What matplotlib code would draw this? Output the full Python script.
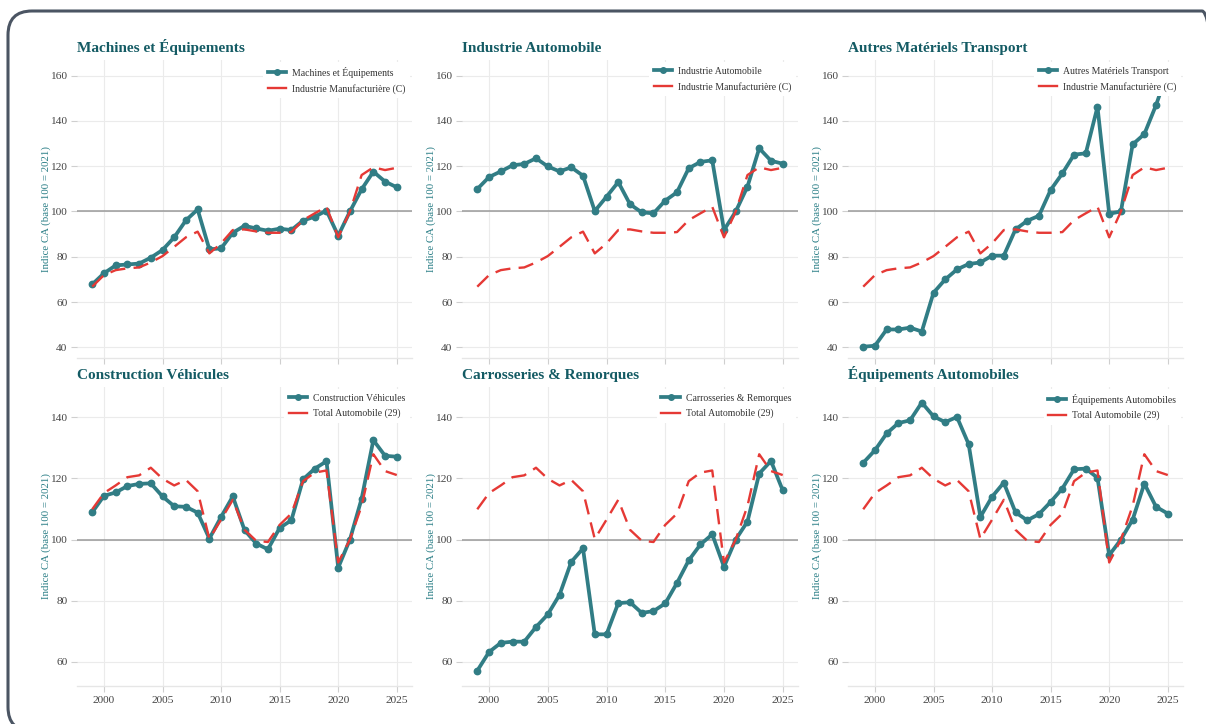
import matplotlib

matplotlib.use("Agg")

import matplotlib.pyplot as plt
from matplotlib.lines import Line2D
from matplotlib.patches import FancyBboxPatch
from matplotlib.transforms import IdentityTransform

plt.rcParams["font.family"] = ["Liberation Serif", "DejaVu Serif"]

YEARS = list(range(1999, 2026))

# sub-sector turnover indices, base 100 = 2021
MACHINES = [67.8, 72.7, 76.2, 76.6, 77.0, 79.6, 83.0, 88.6, 96.1, 100.9,
            83.3, 83.7, 90.6, 93.7, 92.5, 91.5, 92.4, 91.8, 96.0, 97.7,
            100.4, 89.3, 100.0, 109.8, 117.6, 113.2, 110.7]
AUTOMOBILE = [109.9, 115.2, 117.7, 120.4, 121.0, 123.5, 119.9, 117.7, 119.5, 115.8,
              100.2, 106.5, 113.0, 103.2, 99.6, 99.2, 104.8, 108.5, 119.1, 121.9,
              122.6, 91.8, 100.0, 111.0, 127.9, 122.4, 121.1]
AUTRES_TRANSPORT = [40.3, 40.7, 47.9, 47.9, 48.7, 47.0, 64.1, 70.0, 74.4, 76.8,
                    77.5, 80.5, 80.5, 92.1, 95.9, 98.1, 109.5, 116.8, 125.1, 125.7,
                    146.2, 99.0, 100.0, 129.6, 134.2, 147.0, 162.0]
CONSTRUCTION = [108.9, 114.3, 115.4, 117.5, 118.2, 118.4, 114.1, 110.9, 110.7, 108.8,
                100.3, 107.4, 114.1, 103.1, 98.7, 96.8, 103.8, 106.3, 119.7, 123.2,
                125.6, 90.8, 100.0, 113.4, 132.5, 127.4, 127.1]
CARROSSERIES = [57.1, 63.2, 66.2, 66.6, 66.6, 71.4, 75.5, 81.9, 92.7, 97.1,
                69.0, 69.0, 79.2, 79.5, 76.0, 76.6, 79.1, 85.8, 93.2, 98.4,
                101.7, 91.1, 100.0, 105.9, 121.6, 125.7, 116.1]
EQUIPEMENTS = [125.1, 129.2, 134.7, 138.1, 139.0, 144.8, 140.3, 138.4, 140.1, 131.2,
               107.4, 114.0, 118.6, 108.9, 106.3, 108.3, 112.3, 116.7, 123.0, 123.2,
               120.2, 94.9, 100.0, 106.5, 118.3, 110.7, 108.5]

# reference series
MANUFACTURIERE = [66.8, 71.9, 74.1, 74.9, 75.3, 77.5, 80.3, 84.4, 88.6, 91.1,
                  81.5, 85.9, 91.8, 92.1, 91.2, 90.6, 90.6, 90.9, 96.2, 99.2,
                  102.1, 88.6, 100.0, 116.1, 119.5, 118.3, 119.3]
TOTAL_AUTO = [109.9, 115.2, 117.7, 120.4, 121.0, 123.5, 119.9, 117.7, 119.5, 115.8,
              100.2, 106.5, 113.0, 103.2, 99.6, 99.2, 104.8, 108.5, 119.1, 121.9,
              122.6, 92.5, 100.0, 111.0, 127.9, 122.4, 121.1]

PANELS = [
    ("Machines et Équipements", MACHINES, "Industrie Manufacturière (C)", MANUFACTURIERE),
    ("Industrie Automobile", AUTOMOBILE, "Industrie Manufacturière (C)", MANUFACTURIERE),
    ("Autres Matériels Transport", AUTRES_TRANSPORT, "Industrie Manufacturière (C)", MANUFACTURIERE),
    ("Construction Véhicules", CONSTRUCTION, "Total Automobile (29)", TOTAL_AUTO),
    ("Carrosseries & Remorques", CARROSSERIES, "Total Automobile (29)", TOTAL_AUTO),
    ("Équipements Automobiles", EQUIPEMENTS, "Total Automobile (29)", TOTAL_AUTO),
]

TEAL = "#317d85"
RED = "#e53935"
TITLE_COLOR = "#145b64"
GRID = "#ebebeb"

W, H = 1206, 724
fig = plt.figure(figsize=(W / 100, H / 100), dpi=100)
fig.patch.set_facecolor("white")

# card border with rounded corners, in pixel coordinates (runs past the right edge)
frame = FancyBboxPatch((8, -7), 1218, 720, boxstyle="round,pad=0,rounding_size=24",
                       transform=IdentityTransform(), facecolor="none",
                       edgecolor="#4b5563", linewidth=2.2)
fig.add_artist(frame)

col_x = [(77, 412), (462, 798), (848, 1183)]
row_y = [(60, 358), (387, 686)]
row_ylim = [(35.3, 166.9), (52.1, 149.9)]
row_ticks = [range(40, 161, 20), range(60, 141, 20)]

for i, (title, values, ref_name, ref_values) in enumerate(PANELS):
    r, c = divmod(i, 3)
    x0, x1 = col_x[c]
    y0, y1 = row_y[r]
    ax = fig.add_axes([x0 / W, 1 - y1 / H, (x1 - x0) / W, (y1 - y0) / H])

    ax.plot(YEARS, values, color=TEAL, linewidth=2.7, marker="o", markersize=4.6, zorder=3)
    ax.plot(YEARS, ref_values, color=RED, linewidth=1.7, dashes=(6.5, 3.5), zorder=4)
    ax.axhline(100, color="#9a9a9a", linewidth=1.1, zorder=2)

    ax.set_xlim(1997.7, 2026.3)
    ax.set_ylim(*row_ylim[r])
    ax.set_xticks(range(2000, 2026, 5))
    ax.set_yticks(list(row_ticks[r]))
    ax.grid(True, color=GRID, linewidth=0.8, zorder=0)
    ax.set_axisbelow(True)
    for side in ("top", "right", "left"):
        ax.spines[side].set_visible(False)
    ax.spines["bottom"].set_color("#e6e6e6")
    ax.spines["bottom"].set_linewidth(1.0)
    ax.tick_params(axis="both", colors="#cfcfcf", length=4, width=0.8,
                   labelsize=8.2, labelcolor="#444444")
    ax.tick_params(axis="x", pad=3)
    ax.tick_params(axis="y", pad=3)
    if r == 0:
        ax.tick_params(axis="x", labelbottom=False)

    ax.set_ylabel("Indice CA (base 100 = 2021)", color="#2a7e86", fontsize=7.8, labelpad=-0.5)
    ax.set_title(title, loc="left", fontsize=11.0, fontweight="bold",
                 color=TITLE_COLOR, pad=6)

    handles = [
        Line2D([], [], color=TEAL, linewidth=2.7, marker="o", markersize=4),
        Line2D([], [], color=RED, linewidth=1.7),
    ]
    leg = ax.legend(handles, [title, ref_name], loc="upper right", fontsize=7.0,
                    frameon=True, handlelength=1.9, handletextpad=0.6,
                    borderaxespad=0.25, borderpad=0.45, labelspacing=0.6)
    leg.get_frame().set_facecolor("white")
    leg.get_frame().set_alpha(1.0)
    leg.get_frame().set_edgecolor("none")
    leg.get_frame().set_boxstyle("square", pad=0.0)
    leg.set_zorder(6)
    for t in leg.get_texts():
        t.set_color("#333333")

fig.savefig("out.png", dpi=100)
